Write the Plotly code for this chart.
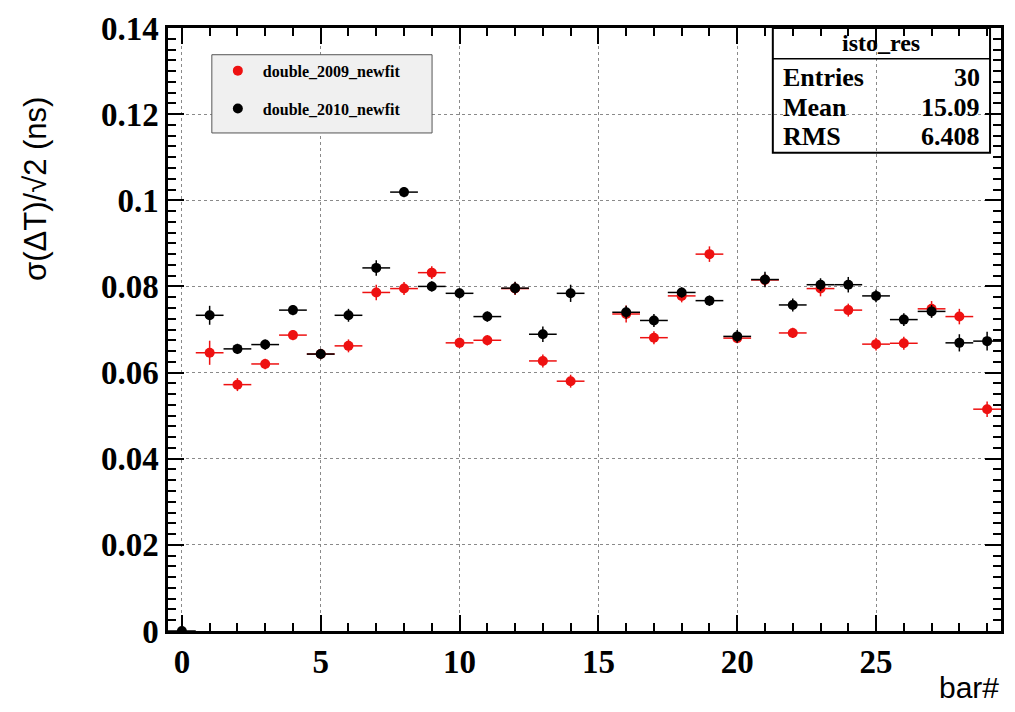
import plotly.graph_objects as go

# ---- data ----
bins = [1, 2, 3, 4, 5, 6, 7, 8, 9, 10, 11, 12, 13, 14,
        16, 17, 18, 19, 20, 21, 22, 23, 24, 25, 26, 27, 28, 29]
res_2009 = [0.0646, 0.0572, 0.0620, 0.0687, 0.0643, 0.0662, 0.0786, 0.0795, 0.0832, 0.0669,
            0.0675, 0.0795, 0.0627, 0.0580,
            0.0736, 0.0681, 0.0778, 0.0875, 0.0680, 0.0815, 0.0692, 0.0795, 0.0745, 0.0666,
            0.0668, 0.0748, 0.0730, 0.0515]
err_2009 = [0.0028, 0.0015, 0.0012, 0.0012, 0.0012, 0.0015, 0.0018, 0.0015, 0.0015, 0.0012,
            0.0012, 0.0015, 0.0015, 0.0015,
            0.0020, 0.0015, 0.0015, 0.0018, 0.0012, 0.0015, 0.0012, 0.0018, 0.0015, 0.0015,
            0.0015, 0.0018, 0.0018, 0.0018]
bins_2010 = [0] + bins
res_2010 = [0.0, 0.0733, 0.0655, 0.0665, 0.0745, 0.0643, 0.0733, 0.0843, 0.1019, 0.0800, 0.0784,
            0.0730, 0.0796, 0.0689, 0.0784,
            0.0740, 0.0721, 0.0786, 0.0767, 0.0684, 0.0816, 0.0757, 0.0804, 0.0804, 0.0778,
            0.0723, 0.0742, 0.0669, 0.0673]
err_2010 = [0.0, 0.0022, 0.0012, 0.0012, 0.0012, 0.0012, 0.0015, 0.0018, 0.0012, 0.0012, 0.0012,
            0.0012, 0.0015, 0.0018, 0.0020,
            0.0015, 0.0015, 0.0012, 0.0012, 0.0015, 0.0018, 0.0015, 0.0015, 0.0018, 0.0015,
            0.0015, 0.0015, 0.0020, 0.0022]
half_width = 0.5

stats_title = "isto_res"
stats_labels = ["Entries", "Mean", "RMS"]
stats_values = ["30", "15.09", "6.408"]

serif_bold = dict(family="Liberation Serif", weight="bold", color="black")

fig = go.Figure()
fig.add_trace(go.Scatter(
    x=bins, y=res_2009, mode="markers", name="double_2009_newfit",
    legendgroup="a",
    marker=dict(color="#ee1111", size=10),
    error_x=dict(type="constant", value=half_width, color="#ee1111", thickness=1.5, width=0),
    error_y=dict(type="data", array=err_2009, color="#ee1111", thickness=1.5, width=0),
))
fig.add_trace(go.Scatter(
    x=bins_2010, y=res_2010, mode="markers", name="double_2010_newfit",
    legendgroup="b",
    marker=dict(color="black", size=10),
    error_x=dict(type="constant", value=half_width, color="black", thickness=1.5, width=0),
    error_y=dict(type="data", array=err_2010, color="black", thickness=1.5, width=0),
))

axis_common = dict(
    showline=True, linecolor="black", linewidth=2.5, mirror="ticks",
    ticks="inside", tickcolor="black", tickwidth=1.5, ticklen=16,
    showgrid=True, gridcolor="#8a8a8a", griddash="dot", gridwidth=1,
    zeroline=False,
    tickfont=dict(size=33, **serif_bold),
)
fig.update_xaxes(range=[-0.5, 29.5], dtick=5, tick0=0,
                 minor=dict(dtick=1, ticks="inside", ticklen=8, tickcolor="black", showgrid=False),
                 **axis_common)
fig.update_yaxes(range=[0, 0.14], dtick=0.02, tick0=0, tickformat="~g",
                 minor=dict(dtick=0.0025, ticks="inside", ticklen=8, tickcolor="black", showgrid=False),
                 **axis_common)

# paper-coordinate helpers from pixel positions
L = 168
W, H = 836, 609
def px(x):
    return (x - L) / W
def py(y):
    return (631 - y) / H

shapes = [
    dict(type="rect", xref="paper", yref="paper", x0=px(775), x1=px(993), y0=py(148), y1=py(22),
         line=dict(color="black", width=2), fillcolor="white", layer="below"),
    dict(type="line", xref="paper", yref="paper", x0=px(775), x1=px(993), y0=py(53), y1=py(53),
         line=dict(color="black", width=1.5)),
    # legend frame
    dict(type="rect", xref="paper", yref="paper", x0=px(212), x1=px(433), y0=py(128), y1=py(49),
         line=dict(color="#555555", width=1), fillcolor="#f0f0f0", layer="above"),
]
annotations = [
    dict(text=stats_title, xref="paper", yref="paper", x=px(884), y=py(37), showarrow=False,
         xanchor="center", yanchor="middle", font=dict(size=24, **serif_bold)),
]
row_y = [72, 102, 132]
for lab, val, yy in zip(stats_labels, stats_values, row_y):
    annotations.append(dict(text=lab, xref="paper", yref="paper", x=px(783), y=py(yy), showarrow=False,
                            xanchor="left", yanchor="middle", font=dict(size=26, **serif_bold)))
    annotations.append(dict(text=val, xref="paper", yref="paper", x=px(985), y=py(yy), showarrow=False,
                            xanchor="right", yanchor="middle", font=dict(size=26, **serif_bold)))

annotations.append(dict(text="σ(ΔT)/√2 (ns)", xref="paper", yref="paper", x=px(35), y=py(184),
                        showarrow=False, textangle=-90, xanchor="center", yanchor="middle",
                        font=dict(family="Liberation Sans", size=31, color="black")))
annotations.append(dict(text="bar#", xref="paper", yref="paper", x=px(1004), y=py(688),
                        showarrow=False, xanchor="right", yanchor="middle",
                        font=dict(family="Liberation Sans", size=30, color="black")))

fig.update_layout(
    width=1015, height=712,
    margin=dict(l=168, r=11, t=22, b=81),
    paper_bgcolor="white", plot_bgcolor="white",
    showlegend=True,
    legend=dict(x=px(213), y=py(48), xanchor="left", yanchor="top",
                bgcolor="rgba(0,0,0,0)", borderwidth=0,
                traceorder="grouped", tracegroupgap=14,
                font=dict(size=16, **serif_bold),
                itemwidth=40),
    shapes=shapes, annotations=annotations,
)

fig.write_html("out.html")
